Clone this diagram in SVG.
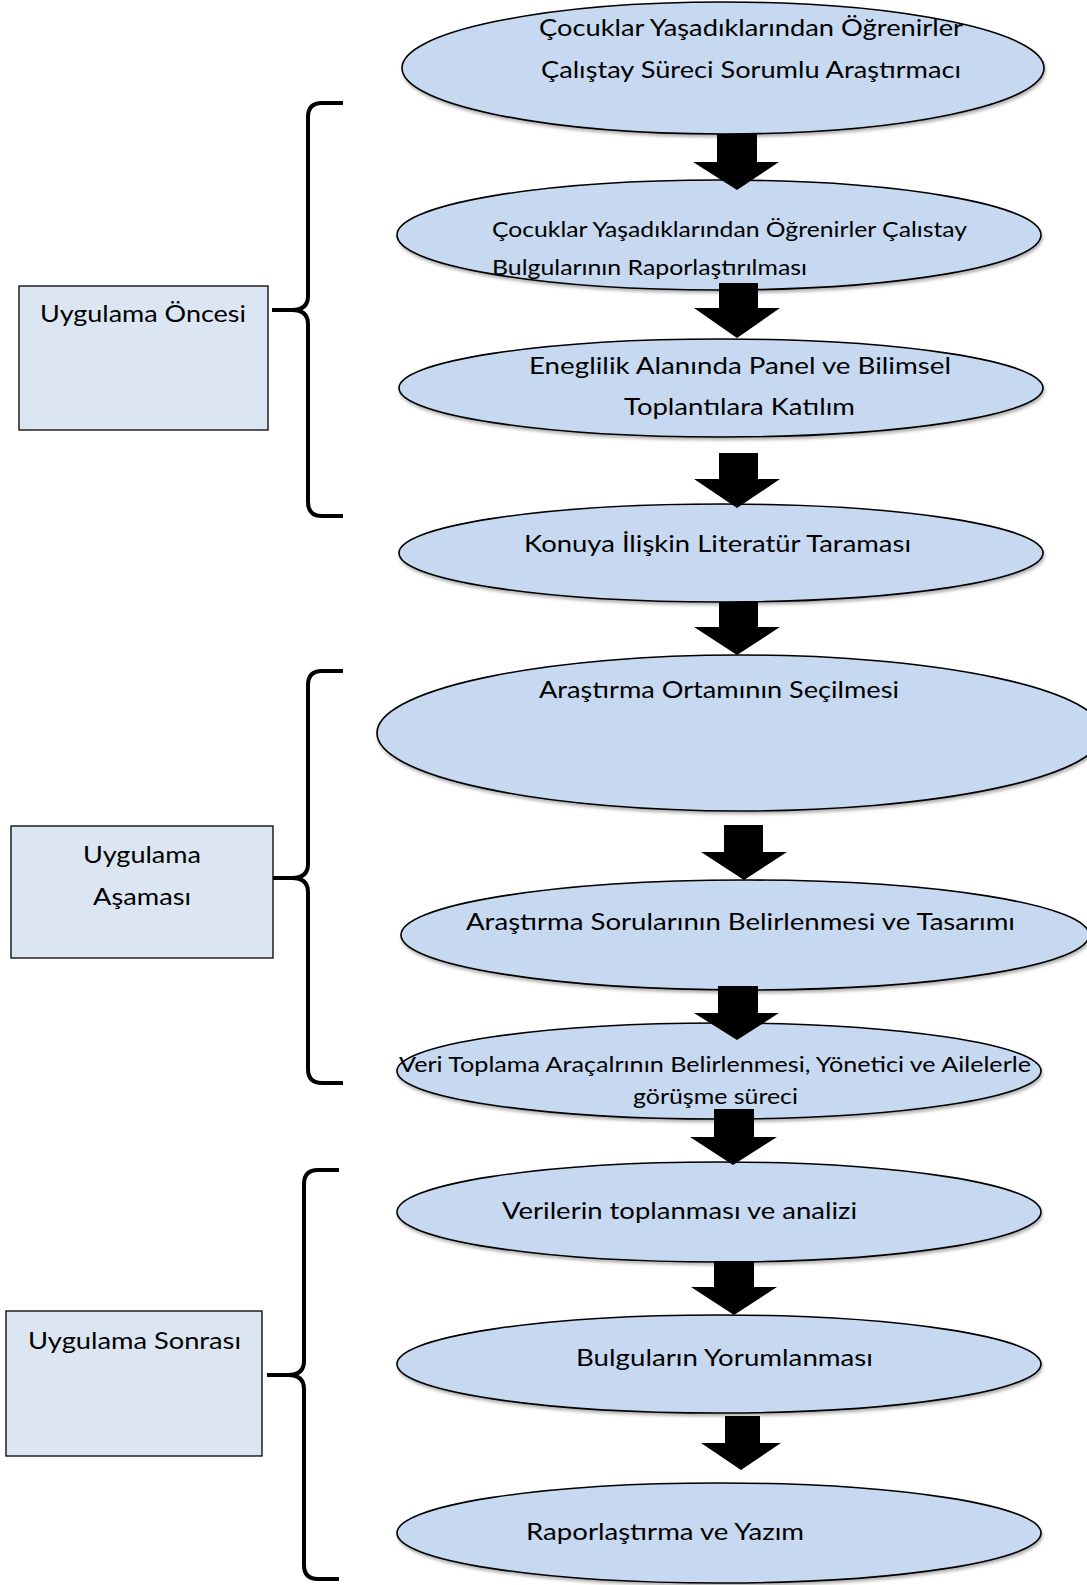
<svg xmlns="http://www.w3.org/2000/svg" width="1087" height="1585" viewBox="0 0 1087 1585">
<defs>
<filter id="sh" x="-5%" y="-10%" width="110%" height="125%">
<feDropShadow dx="1" dy="2.5" stdDeviation="1.5" flood-color="#000" flood-opacity="0.3"/>
</filter>
</defs>
<style>
.el{fill:#c6d9f1;stroke:#000;stroke-width:1.6;filter:url(#sh)}
.bx{fill:#dce6f2;stroke:#000;stroke-width:1.3}
.t{font-family:Lato,"Liberation Sans",sans-serif;fill:#000;font-size:24px}
.s{font-size:21px}
.m{font-size:22px}
.br{fill:none;stroke:#000;stroke-width:4;stroke-linecap:butt}
.ar{fill:#000}
</style>
<rect width="1087" height="1585" fill="#fff"/>
<g id="n1"><ellipse class="el" cx="723" cy="68" rx="321" ry="66"/>
<text class="t" x="539" y="36" textLength="424" lengthAdjust="spacingAndGlyphs">Çocuklar Yaşadıklarından Öğrenirler</text>
<text class="t" x="541" y="78" textLength="420" lengthAdjust="spacingAndGlyphs">Çalıştay Süreci Sorumlu Araştırmacı</text></g>
<g id="n2"><ellipse class="el" cx="719" cy="235" rx="322" ry="55"/>
<text class="t s" x="492" y="237" textLength="475" lengthAdjust="spacingAndGlyphs">Çocuklar Yaşadıklarından Öğrenirler Çalıstay</text>
<text class="t s" x="492" y="275" textLength="315" lengthAdjust="spacingAndGlyphs">Bulgularının Raporlaştırılması</text></g>
<g id="n3"><ellipse class="el" cx="721" cy="388" rx="322" ry="49"/>
<text class="t" x="529" y="374" textLength="422" lengthAdjust="spacingAndGlyphs">Eneglilik Alanında Panel ve Bilimsel</text>
<text class="t" x="624" y="415" textLength="231" lengthAdjust="spacingAndGlyphs">Toplantılara Katılım</text></g>
<g id="n4"><ellipse class="el" cx="721" cy="553" rx="322" ry="49"/>
<text class="t" x="524" y="552" textLength="387" lengthAdjust="spacingAndGlyphs">Konuya İlişkin Literatür Taraması</text></g>
<g id="n5"><ellipse class="el" cx="740" cy="733" rx="363" ry="78"/>
<text class="t" x="539" y="698" textLength="360" lengthAdjust="spacingAndGlyphs">Araştırma Ortamının Seçilmesi</text></g>
<g id="n6"><ellipse class="el" cx="745" cy="935" rx="344" ry="55"/>
<text class="t" x="466" y="930" textLength="549" lengthAdjust="spacingAndGlyphs">Araştırma Sorularının Belirlenmesi ve Tasarımı</text></g>
<g id="n7"><ellipse class="el" cx="719" cy="1071" rx="322" ry="48"/>
<text class="t m" x="399" y="1072" textLength="632" lengthAdjust="spacingAndGlyphs">Veri Toplama Araçalrının Belirlenmesi, Yönetici ve Ailelerle</text>
<text class="t m" x="633" y="1104" textLength="165" lengthAdjust="spacingAndGlyphs">görüşme süreci</text></g>
<g id="n8"><ellipse class="el" cx="719" cy="1212" rx="322" ry="50"/>
<text class="t" x="502" y="1219" textLength="355" lengthAdjust="spacingAndGlyphs">Verilerin toplanması ve analizi</text></g>
<g id="n9"><ellipse class="el" cx="719" cy="1364" rx="322" ry="49"/>
<text class="t" x="576" y="1366" textLength="297" lengthAdjust="spacingAndGlyphs">Bulguların Yorumlanması</text></g>
<g id="n10"><ellipse class="el" cx="719" cy="1533" rx="322" ry="50"/>
<text class="t" x="526" y="1540" textLength="278" lengthAdjust="spacingAndGlyphs">Raporlaştırma ve Yazım</text></g>
<g id="b1"><rect class="bx" x="19" y="286" width="249" height="144"/>
<text class="t" x="40" y="322" textLength="206" lengthAdjust="spacingAndGlyphs">Uygulama Öncesi</text></g>
<g id="b2"><rect class="bx" x="11" y="826" width="262" height="132"/>
<text class="t" x="83" y="863" textLength="118" lengthAdjust="spacingAndGlyphs">Uygulama</text>
<text class="t" x="93" y="905" textLength="98" lengthAdjust="spacingAndGlyphs">Aşaması</text></g>
<g id="b3"><rect class="bx" x="6" y="1311" width="256" height="145"/>
<text class="t" x="28" y="1349" textLength="213" lengthAdjust="spacingAndGlyphs">Uygulama Sonrası</text></g>
<g id="braces">
<path class="br" d="M343 103 H322 Q308 103 308 117 V296 Q308 310 292 310 H272 M292 310 Q308 310 308 324 V502 Q308 516 322 516 H343"/>
<path class="br" d="M343 671 H322 Q308 671 308 685 V864 Q308 878 292 878 H273 M292 878 Q308 878 308 892 V1069 Q308 1083 322 1083 H343"/>
<path class="br" d="M339 1170 H318 Q304 1170 304 1184 V1361 Q304 1375 288 1375 H267 M288 1375 Q304 1375 304 1389 V1565 Q304 1579 318 1579 H339"/>
</g>
<g id="connectors">
<polygon class="ar" points="717,134 757,134 757,162 779,162 737,190 693,162 717,162"/>
<polygon class="ar" points="719,283 758,283 758,308 780,308 737,338 694,308 719,308"/>
<polygon class="ar" points="719,453 758,453 758,479 780,479 737,508 694,479 719,479"/>
<polygon class="ar" points="719,602 758,602 758,627 780,627 737,655 694,627 719,627"/>
<polygon class="ar" points="724,825 763,825 763,852 787,852 744,880 701,852 724,852"/>
<polygon class="ar" points="718,986 758,986 758,1013 779,1013 737,1040 694,1013 718,1013"/>
<polygon class="ar" points="714,1109 754,1109 754,1137 777,1137 733,1165 690,1137 714,1137"/>
<polygon class="ar" points="714,1261 754,1261 754,1287 777,1287 734,1315 691,1287 714,1287"/>
<polygon class="ar" points="725,1416 760,1416 760,1443 781,1443 741,1470 701,1443 725,1443"/>
</g>
</svg>
